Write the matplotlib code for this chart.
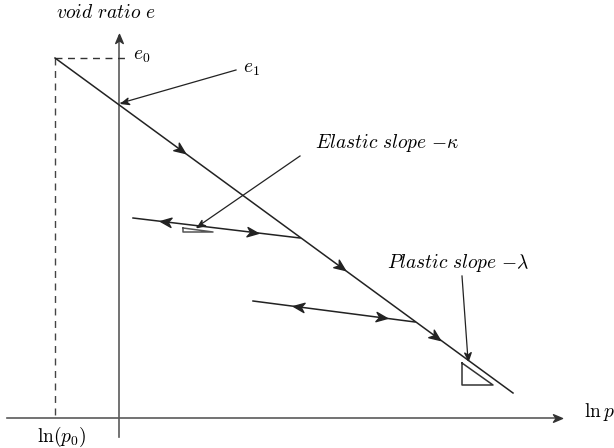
import numpy as np
import matplotlib.pyplot as plt
from matplotlib.path import Path
from matplotlib.markers import MarkerStyle
from matplotlib.transforms import Affine2D

plt.rcParams['mathtext.fontset'] = 'cm'

W, H = 614, 448

# schematic geometry (pixel-like coordinates, y downwards)
axis_x = [7, 560]
axis_x_y = 418
axis_y_x = 119
axis_y = [437, 36]
p0_x = 55
e0_y = 58
ncl_x = [55, 513]
ncl_y = [58, 393]
url1_x = [300, 133]
url1_y = [238, 218]
url2_x = [415, 253]
url2_y = [322, 301]

# arrow heads: x position on the line, direction (+1 reload, -1 unload)
heads_ncl = [185, 345, 440]
heads_url1 = [(258, 1), (160, -1)]
heads_url2 = [(387, 1), (293, -1)]

fig = plt.figure(figsize=(W / 100, H / 100), dpi=100)
ax = fig.add_axes([0, 0, 1, 1])
ax.set_xlim(0, W)
ax.set_ylim(H, 0)
ax.axis('off')

stealth = Path([(0, 0), (-1, 0.42), (-0.7, 0), (-1, -0.42), (0, 0)],
               [Path.MOVETO, Path.LINETO, Path.LINETO, Path.LINETO, Path.CLOSEPOLY])


def head(x, y, dx, dy, size=16, color='#222222'):
    ang = np.degrees(np.arctan2(-dy, dx))
    m = MarkerStyle(stealth, transform=Affine2D().rotate_deg(ang))
    ax.plot([x], [y], marker=m, markersize=size, color=color, linestyle='none')


def on_line(xs, ys, x):
    return ys[0] + (ys[1] - ys[0]) * (x - xs[0]) / (xs[1] - xs[0])


# axes
ax.plot(axis_x, [axis_x_y, axis_x_y], color='#5a5a5a', lw=1.2)
ax.plot([axis_y_x, axis_y_x], axis_y, color='#5a5a5a', lw=1.2)
head(axis_x[1] + 2, axis_x_y, 1, 0, size=13, color='#333333')
head(axis_y_x, axis_y[1] - 2, 0, -1, size=13, color='#333333')

# dashed guides
ax.plot([p0_x, 126], [e0_y, e0_y], color='#333333', lw=1, dashes=(5, 4))
ax.plot([p0_x, p0_x], [e0_y, axis_x_y], color='#444444', lw=1, dashes=(5, 4))

# normal compression line
ax.plot(ncl_x, ncl_y, color='#222222', lw=1.1)
dx, dy = ncl_x[1] - ncl_x[0], ncl_y[1] - ncl_y[0]
for hx in heads_ncl:
    head(hx, on_line(ncl_x, ncl_y, hx), dx, dy)

# unloading-reloading lines
for xs, ys, hs in [(url1_x, url1_y, heads_url1), (url2_x, url2_y, heads_url2)]:
    ax.plot(xs, ys, color='#222222', lw=1.1)
    ddx, ddy = xs[0] - xs[1], ys[0] - ys[1]
    for hx, sgn in hs:
        head(hx, on_line(xs, ys, hx), sgn * ddx, sgn * ddy)

# slope triangles
ax.plot([183, 213, 183, 183], [228, 232, 232, 228], color='#555555', lw=1.1)
ax.plot([462, 462, 493, 462], [363, 385, 385, 363], color='#333333', lw=1.1)

# pointer arrows
for (x0, y0), (x1, y1) in [((236, 70), (121, 103)),
                           ((300, 156), (197, 227)),
                           ((462, 276), (468, 360))]:
    ax.plot([x0, x1], [y0, y1], color='#222222', lw=0.9)
    head(x1, y1, x1 - x0, y1 - y0, size=11)

# labels
fs = 14
ax.text(106, 13, r'$\mathit{void\ ratio}\ e$', fontsize=fs, ha='center', va='center')
ax.text(133, 56, r'$e_0$', fontsize=fs, ha='left', va='center')
ax.text(243, 69, r'$e_1$', fontsize=fs, ha='left', va='center')
ax.text(62, 437, r'$\ln(p_0)$', fontsize=fs, ha='center', va='center')
ax.text(584, 412, r'$\ln p$', fontsize=fs, ha='left', va='center')
ax.text(315, 143, r'$\mathit{Elastic\ slope}\ {-}\kappa$', fontsize=fs, ha='left', va='center')
ax.text(387, 263, r'$\mathit{Plastic\ slope}\ {-}\lambda$', fontsize=fs, ha='left', va='center')

fig.savefig('out.png', dpi=100)
